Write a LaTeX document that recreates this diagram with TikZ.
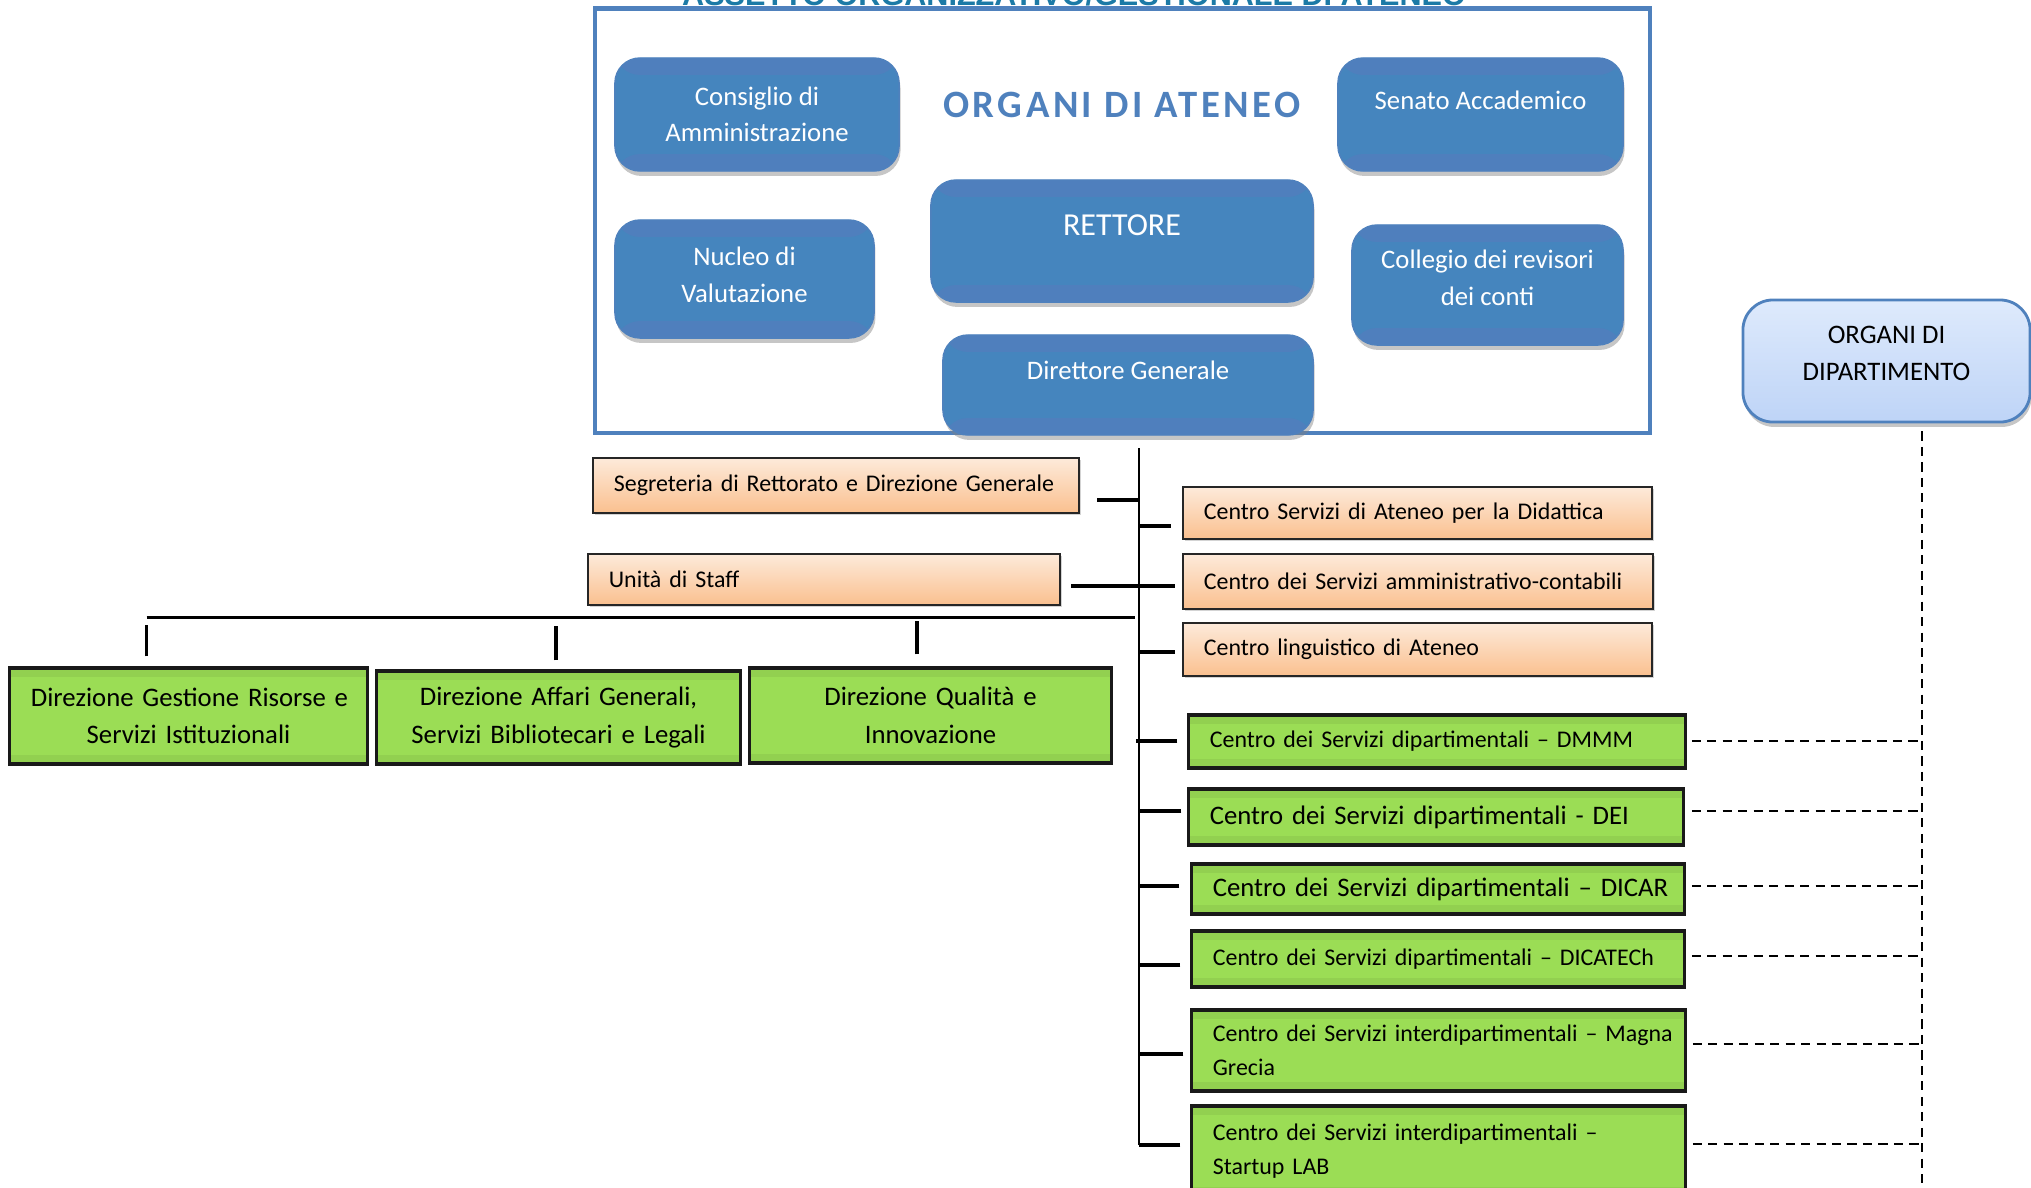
\documentclass[tikz,border=0pt]{standalone}
\usepackage{fontspec}
\setmainfont{Carlito}
\newfontfamily\titolofont{Liberation Sans}
\newfontfamily\organifont[LetterSpace=9]{Carlito}
\usepackage{tikz}
\usetikzlibrary{calc}
\usetikzlibrary{shadows}
\definecolor{bluorg}{RGB}{69,133,190}
\definecolor{bluband}{RGB}{79,127,189}
\definecolor{blubordo}{RGB}{79,129,189}
\definecolor{titolo}{RGB}{28,122,166}
\definecolor{pescachiaro}{RGB}{253,234,218}
\definecolor{pescascuro}{RGB}{250,192,143}
\definecolor{verde}{RGB}{155,221,85}
\definecolor{verdeband}{RGB}{146,208,80}
\definecolor{dipchiaro}{RGB}{222,234,252}
\definecolor{dipscuro}{RGB}{190,212,247}
\tikzset{%
    bande/.style 2 args={path picture={
        \fill[#1] (path picture bounding box.north west) rectangle ([yshift=-#2]path picture bounding box.north east);
        \fill[#1] (path picture bounding box.south west) rectangle ([yshift=#2]path picture bounding box.south east);}},
    dimens/.style 2 args={minimum width=#1,minimum height=#2},
    uff/.style 2 args={text width=#1,minimum height=#2},
    organo/.style={draw=blubordo,fill=bluorg,rounded corners=0.25cm,text=white,align=center,inner sep=0pt,
        font=\fontsize{7.6}{10.4}\selectfont,bande={bluband}{0.17cm},
        drop shadow={shadow xshift=0.4pt,shadow yshift=-1.4pt,opacity=0.45}},
    sopra/.style={font=\fontsize{7.6}{8.4}\selectfont},
    ufficio/.style={draw=black!85,line width=0.6pt,top color=pescachiaro,bottom color=pescascuro,align=left,
        inner xsep=0.21cm,inner ysep=0pt,font=\fontsize{6.8}{9.6}\selectfont,
        drop shadow={shadow xshift=0.6pt,shadow yshift=-0.6pt,opacity=0.35}},
    centro/.style={draw=black!90,line width=0.9pt,fill=verde,bande={verdeband}{0.09cm},align=left,
        inner xsep=0.21cm,inner ysep=0pt,font=\fontsize{6.8}{9.6}\selectfont},
    grande/.style={font=\fontsize{7.6}{10.7}\selectfont},
    direzione/.style={centro,align=center,grande},
    tronco/.style={line width=0.6pt},
    stub/.style={line width=0.9pt},
    stubb/.style={line width=1.4pt},
    tratt/.style={line width=0.6pt,dash pattern=on 2.6pt off 1.8pt}
}
\begin{document}
\begin{tikzpicture}[x=0.01cm,y=-0.01cm]
    \useasboundingbox (0,0) rectangle (2031,1187);
    \node[anchor=base,text=titolo,font=\titolofont\bfseries\fontsize{8.7}{10}\selectfont] (titolo) at (1074,5.5)
        {ASSETTO ORGANIZZATIVO/GESTIONALE DI ATENEO};
    %
    \draw[blubordo,line width=1.3pt] (595,8.5) rectangle (1650,433);
    \node[text=blubordo,font=\organifont\bfseries\fontsize{11}{12}\selectfont] (organi) at (1122,105) {ORGANI DI ATENEO};
    \node[organo,dimens={2.84cm}{1.13cm}] (cda) at (757,114.5) {Consiglio di\\Amministrazione};
    \node[organo,sopra,dimens={2.85cm}{1.13cm}] (senato) at (1480.5,114.5) {Senato Accademico\\\mbox{}};
    \node[organo,dimens={3.82cm}{1.22cm},font=\fontsize{9.1}{9}\selectfont] (rettore) at (1122,241) {RETTORE\\\mbox{}};
    \node[organo,dimens={2.59cm}{1.18cm}] (nucleo) at (744.5,279) {Nucleo di\\Valutazione\\[-0.28cm]\mbox{}};
    \node[organo,dimens={2.71cm}{1.20cm}] (collegio) at (1487.5,285) {Collegio dei revisori\\dei conti\\[-0.22cm]\mbox{}};
    \node[organo,sopra,dimens={3.70cm}{1.00cm}] (dg) at (1128,385) {Direttore Generale\\\mbox{}};
    %
    \node[draw=blubordo,line width=0.8pt,top color=dipchiaro,bottom color=dipscuro,rounded corners=0.3cm,
        dimens={2.87cm}{1.22cm},align=center,grande,
        drop shadow={shadow xshift=0.4pt,shadow yshift=-1.4pt,opacity=0.45}] (orgdip) at (1886.5,361) {ORGANI DI\\DIPARTIMENTO\\[-0.22cm]\mbox{}};
    %
    \node[ufficio,uff={4.44cm}{0.55cm}] (segr) at (836,485.5) {Segreteria di Rettorato e Direzione Generale};
    \node[ufficio,uff={4.30cm}{0.51cm}] (staff) at (824,579.5) {Unità di Staff};
    \node[ufficio,uff={4.27cm}{0.52cm}] (csad) at (1417.5,513) {Centro Servizi di Ateneo per la Didattica};
    \node[ufficio,uff={4.28cm}{0.55cm}] (csac) at (1418,581.5) {Centro dei Servizi amministrativo-contabili};
    \node[ufficio,uff={4.27cm}{0.53cm}] (cla) at (1417.5,649.5) {Centro linguistico di Ateneo};
    %
    \node[direzione,uff={3.15cm}{0.96cm}] (dgrsi) at (188.5,716) {\mbox{Direzione Gestione Risorse e}\\Servizi Istituzionali};
    \node[direzione,uff={3.21cm}{0.93cm}] (dagsbl) at (558.5,717.5) {\mbox{Direzione Affari Generali,}\\Servizi Bibliotecari e Legali};
    \node[direzione,uff={3.19cm}{0.95cm}] (dqi) at (930.5,715.5) {Direzione Qualità e\\Innovazione};
    \node[centro,uff={4.54cm}{0.53cm}] (dmmm) at (1437,741.5) {Centro dei Servizi dipartimentali – DMMM};
    \node[centro,grande,uff={4.52cm}{0.56cm}] (dei) at (1436,817) {Centro dei Servizi dipartimentali - DEI};
    \node[centro,grande,uff={4.50cm}{0.50cm}] (dicar) at (1438,889) {\mbox{Centro dei Servizi dipartimentali – DICAR}};
    \node[centro,uff={4.50cm}{0.56cm}] (dicatech) at (1438,959) {\mbox{Centro dei Servizi dipartimentali – DICATECh}};
    \node[centro,uff={4.51cm}{0.81cm}] (magna) at (1438.5,1050.5) {\mbox{Centro dei Servizi interdipartimentali – Magna}\\Grecia};
    \node[centro,uff={4.51cm}{0.90cm}] (startup) at (1438.5,1151) {Centro dei Servizi interdipartimentali –\\Startup LAB};
    %
    \coordinate (ttop) at (1139,448);
    \draw[tronco] (ttop) -- ++(0,697);
    \draw[stub] (segr.east) ++(17,14.5) coordinate (a1) -- (a1 -| ttop);
    \draw[stubb] (csad.west) ++(-11,13) coordinate (a2) -- (a2 -| ttop);
    \draw[stub] (staff.east) ++(10,6.5) coordinate (a3) -- (a3 -| ttop);
    \draw[stub] (csac.west) ++(-7,4.5) coordinate (a4) -- (a4 -| ttop);
    \draw[stub] (cla.west) ++(-7,2.5) coordinate (a5) -- (a5 -| ttop);
    \draw[stub] (dmmm.west) ++(-10,-0.5) coordinate (a6) -- ($(a6 -| ttop)+(-3,0)$);
    \draw[stubb] (dei.west) ++(-6,-6) coordinate (a7) -- (a7 -| ttop);
    \draw[stubb] (dicar.west) ++(-11,-3) coordinate (a8) -- (a8 -| ttop);
    \draw[stub] (dicatech.west) ++(-10,6) coordinate (a9) -- (a9 -| ttop);
    \draw[stub] (magna.west) ++(-7,3.5) coordinate (a10) -- (a10 -| ttop);
    \draw[stub] (startup.west) ++(-10,-6) coordinate (a11) -- (a11 -| ttop);
    %
    \draw[stub] (dgrsi.north) ++(-42,-49) coordinate (b0) -- ($(b0 -| ttop)+(-4,0)$);
    \draw[tronco] (dgrsi.north) ++(-42,-10) -- ++(0,-31);
    \draw[stub] (dagsbl.north) ++(-2.5,-9) -- ++(0,-34);
    \draw[stub] (dqi.north) ++(-13.5,-12) -- ++(0,-33);
    %
    \draw[tratt] (orgdip.south) ++(35.5,8) coordinate (d0) -- ++(0,760);
    \draw[tratt] (dmmm.east) ++(5,-0.5) coordinate (c1) -- (c1 -| d0);
    \draw[tratt] (dei.east) ++(7,-6) coordinate (c2) -- (c2 -| d0);
    \draw[tratt] (dicar.east) ++(6,-3) coordinate (c3) -- (c3 -| d0);
    \draw[tratt] (dicatech.east) ++(6,-3) coordinate (c4) -- (c4 -| d0);
    \draw[tratt] (magna.east) ++(6,-6.5) coordinate (c5) -- (c5 -| d0);
    \draw[tratt] (startup.east) ++(6,-7) coordinate (c6) -- (c6 -| d0);
\end{tikzpicture}
\end{document}
